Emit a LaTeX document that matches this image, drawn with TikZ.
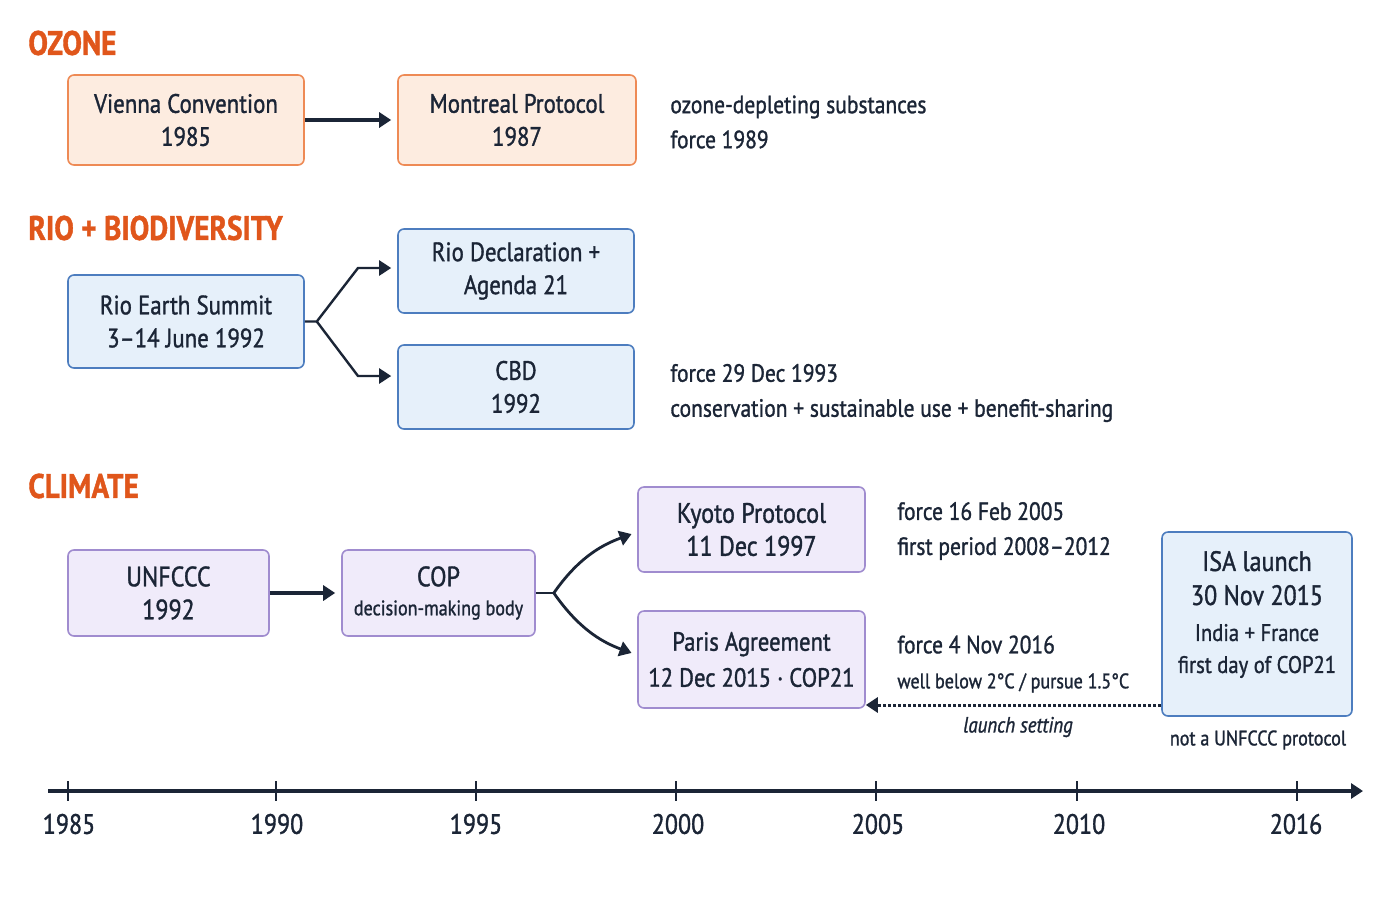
\documentclass[tikz,border=0pt]{standalone}
\usepackage{fontspec}
\setmainfont{PT Sans}[FakeStretch=0.86,FakeBold=1.2]
\usetikzlibrary{arrows.meta}
\definecolor{ink}{HTML}{1B2536}
\definecolor{secorange}{HTML}{E0561B}
\definecolor{oline}{HTML}{EE8A55}
\definecolor{ofill}{HTML}{FDECE0}
\definecolor{bline}{HTML}{4D7DBF}
\definecolor{bfill}{HTML}{E6F0FA}
\definecolor{pline}{HTML}{A08CCF}
\definecolor{pfill}{HTML}{F0EBFA}

\begin{document}
\begin{tikzpicture}[
  x=0.5pt, y=-0.5pt,
  sec/.style={anchor=west,inner sep=0pt,text=secorange,font=\bfseries\fontsize{17}{20}\selectfont},
  obox/.style={draw=oline,fill=ofill,rounded corners=3pt,line width=0.8pt,align=center,inner sep=0pt,text=ink,font=\fontsize{13.3}{16.5}\selectfont},
  bbox/.style={obox,draw=bline,fill=bfill},
  pbox/.style={obox,draw=pline,fill=pfill,font=\fontsize{14}{16.5}\selectfont},
  note/.style={anchor=west,align=left,inner sep=0pt,text=ink,font=\fontsize{12.5}{17.5}\selectfont},
  arr/.style={draw=ink,line width=1.8pt,shorten >=3pt,-{Triangle[length=6pt,width=7.5pt]}},
  thin/.style={draw=ink,line width=1.2pt,shorten >=3pt,-{Triangle[length=6pt,width=7.5pt]}},
  tick/.style={draw=ink,line width=1pt},
  yr/.style={text=ink,font=\fontsize{14}{16}\selectfont}
]
  \useasboundingbox[fill=white] (0,0) rectangle (1400,900);

  % ozone
  \node[sec] (ozone) at (28,43) {OZONE};
  \node[obox,minimum width=118pt,minimum height=45pt] (vienna) at (186,120) {Vienna Convention\\1985};
  \node[obox,minimum width=119pt,minimum height=45pt] (montreal) at (517,120) {Montreal Protocol\\1987};
  \node[note] (ozonenote) at (670,122) {ozone-depleting substances\\force 1989};
  \draw[arr] (vienna) -- (montreal);

  % rio + biodiversity
  \node[sec] (riosec) at (28,228) {RIO + BIODIVERSITY};
  \node[bbox,minimum width=118pt,minimum height=46.5pt] (rio) at (186,321.5) {Rio Earth Summit\\3--14 June 1992};
  \node[bbox,minimum width=118pt,minimum height=42pt] (riodecl) at (516,271) {Rio Declaration +\\Agenda 21};
  \node[bbox,minimum width=118pt,minimum height=42pt] (cbd) at (516,387) {CBD\\1992};
  \node[note] (cbdnote) at (670,393) {force 29 Dec 1993\\conservation + sustainable use + benefit-sharing};
  \draw[thin] (rio.east) -- ++(12,0) coordinate (rfork) -- (358,268) -- (riodecl.west |- 0,268);
  \draw[thin] (rfork) -- (358,376) -- (cbd.west |- 0,376);

  % climate
  \node[sec] (climate) at (28,486) {CLIMATE};
  \node[pbox,minimum width=100.5pt,minimum height=43pt] (unfccc) at (168.5,593) {UNFCCC\\1992};
  \node[pbox,minimum width=96.5pt,minimum height=43pt] (cop) at (438.5,593) {COP\\[-2pt]{\fontsize{10.5}{12}\selectfont decision-making body}};
  \node[pbox,minimum width=113.5pt,minimum height=42.5pt] (kyoto) at (751.5,529.5) {Kyoto Protocol\\11 Dec 1997};
  \node[pbox,minimum width=113.5pt,minimum height=48.5pt,font=\fontsize{13.2}{16.5}\selectfont] (paris) at (751.5,659.5) {Paris Agreement\\[1.5pt]12 Dec 2015 · COP21};
  \node[note] (kyotonote) at (897,531) {force 16 Feb 2005\\first period 2008--2012};
  \node[note] (parisnote) at (897,664) {force 4 Nov 2016\\{\fontsize{10.5}{12}\selectfont well below 2°C / pursue 1.5°C}};
  \node[bbox,minimum width=95pt,minimum height=92pt,font=\fontsize{12}{16}\selectfont] (isa) at (1257,624)
    {{\fontsize{14}{16}\selectfont ISA launch}\\[1pt]{\fontsize{14}{16}\selectfont 30 Nov 2015}\\[2pt]India + France\\first day of COP21\\[-4pt]\mbox{}};
  \node[text=ink,font=\itshape\fontsize{11}{12}\selectfont] (launch) at (1018,727) {launch setting};
  \node[text=ink,font=\fontsize{10.5}{12}\selectfont] (notproto) at (1258,740) {not a UNFCCC protocol};
  \draw[arr] (unfccc) -- (cop);
  \draw[draw=ink,line width=1.4pt] (cop.east) -- ++(18,0) coordinate (cfork);
  \draw[thin,line width=1.4pt] (cfork) to[out=55,in=200] (kyoto.west |- 0,532);
  \draw[thin,line width=1.4pt] (cfork) to[out=-55,in=160] (paris.west |- 0,655);
  \draw[draw=ink,line width=1.5pt,densely dotted,-{Triangle[length=6pt,width=7.5pt]}] (isa.west |- 0,705) -- (paris.east |- 0,705);

  % timeline
  \coordinate (tlstart) at (48,791);
  \coordinate (tlend) at (1363,791);
  \draw[arr,shorten >=0pt] (tlstart) -- (tlend);
  \draw[tick] (68,781) -- (68,801);
  \draw[tick] (276,781) -- (276,801);
  \draw[tick] (476,781) -- (476,801);
  \draw[tick] (676,781) -- (676,801);
  \draw[tick] (876,781) -- (876,801);
  \draw[tick] (1077,781) -- (1077,801);
  \draw[tick] (1297,781) -- (1297,801);
  \node[yr] (y1985) at (69,824) {1985};
  \node[yr] (y1990) at (277,824) {1990};
  \node[yr] (y1995) at (476,824) {1995};
  \node[yr] (y2000) at (678,824) {2000};
  \node[yr] (y2005) at (878,824) {2005};
  \node[yr] (y2010) at (1079,824) {2010};
  \node[yr] (y2016) at (1296,824) {2016};
\end{tikzpicture}
\end{document}
